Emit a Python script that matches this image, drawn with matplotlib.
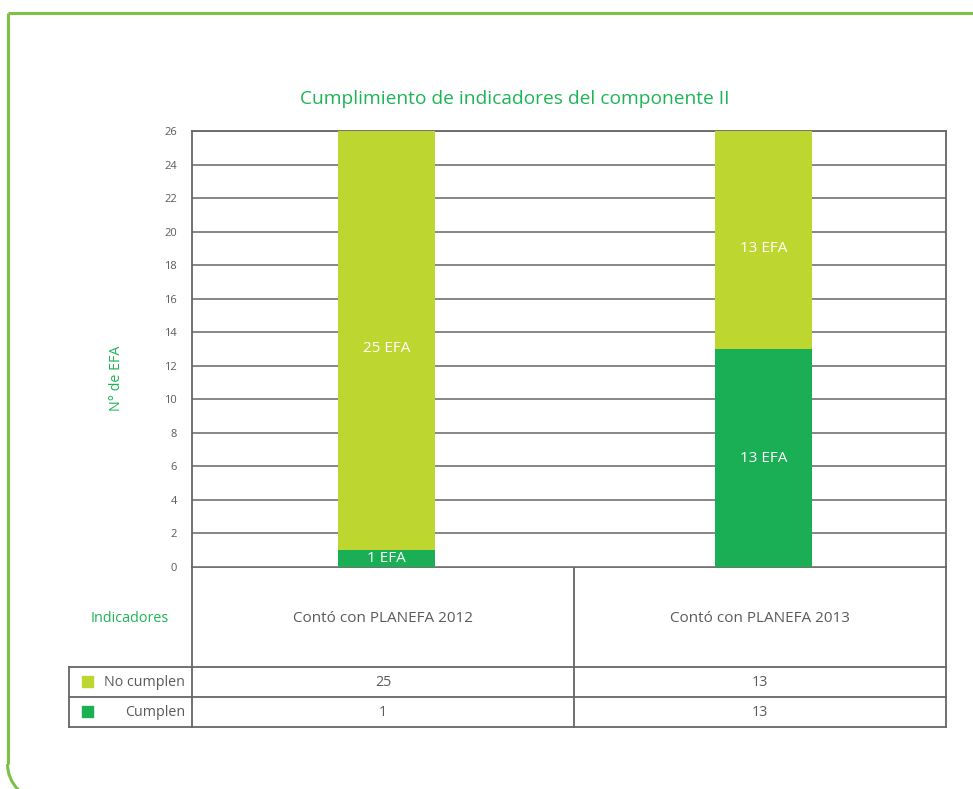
import matplotlib.pyplot as plt
from matplotlib.patches import Arc, Rectangle

# datos
categorias = ['Contó con PLANEFA 2012', 'Contó con PLANEFA 2013']
cumplen = [1, 13]
no_cumplen = [25, 13]
yticks = list(range(0, 27, 2))

verde_claro = '#bdd730'
verde = '#1aae55'
verde_titulo = '#1db455'
verde_marco = '#7dc242'
gris = '#5a5a5a'
linea = '#666666'

plt.rcParams['font.family'] = ['Open Sans', 'DejaVu Sans']

W, H = 973, 789
fig = plt.figure(figsize=(W / 100, H / 100), dpi=100)

# capa de fondo en pixeles (marco y tabla)
bg = fig.add_axes([0, 0, 1, 1])
bg.set_xlim(0, W)
bg.set_ylim(H, 0)
bg.axis('off')

# marco verde con esquina inferior izquierda redondeada
r = 36
bg.plot([W + 5, 7.5], [12.5, 12.5], color=verde_marco, lw=2.2, solid_capstyle='butt')
bg.plot([7.5, 7.5], [12.5, 800 - r], color=verde_marco, lw=2.2, solid_capstyle='butt')
bg.add_patch(Arc((7.5 + r, 800 - r), 2 * r, 2 * r, theta1=90, theta2=180,
                 color=verde_marco, lw=2.2))

# area del grafico
x0, x1, y0, y1 = 192, 946, 131, 567
ax = fig.add_axes([x0 / W, 1 - y1 / H, (x1 - x0) / W, (y1 - y0) / H])
pos = list(range(len(categorias)))
ax.bar(pos, cumplen, width=0.257, color=verde, zorder=3)
ax.bar(pos, no_cumplen, width=0.257, bottom=cumplen, color=verde_claro, zorder=3)
ax.set_xlim(-0.516, 1.484)
ax.set_ylim(0, 26)
ax.set_yticks(yticks)
ax.set_xticks([])
ax.tick_params(axis='y', length=0, pad=11, labelsize=8, labelcolor=gris)
ax.yaxis.grid(True, color=linea, lw=1.1, zorder=0)
for s in ax.spines.values():
    s.set_color(linea)
    s.set_linewidth(1.3)
ax.spines['bottom'].set_visible(False)

for p, c, n in zip(pos, cumplen, no_cumplen):
    ax.text(p, c / 2, f'{c} EFA', ha='center', va='center', color='white', fontsize=11, zorder=4)
    ax.text(p, c + n / 2 - 0.5, f'{n} EFA', ha='center', va='center', color='white', fontsize=11, zorder=4)

bg.text(117, 378, 'N° de EFA', color=verde_titulo, fontsize=10.3, rotation=90,
        ha='center', va='center')
bg.text(515, 99, 'Cumplimiento de indicadores del componente II', color=verde_titulo,
        fontsize=13.8, ha='center', va='center')

# tabla inferior
cols = [192, 574, 946]
lw_t = 1.3
for xx in cols:
    bg.plot([xx, xx], [567, 727], color=linea, lw=lw_t)
bg.plot([cols[0], cols[2]], [567, 567], color=linea, lw=lw_t)
for yy in [667, 697, 727]:
    bg.plot([69, cols[2]], [yy, yy], color=linea, lw=lw_t)
bg.plot([69, 69], [667, 727], color=linea, lw=lw_t)

bg.text(130, 619, 'Indicadores', color=verde_titulo, fontsize=10.4, ha='center', va='center')
for i, cat in enumerate(categorias):
    xc = (cols[i] + cols[i + 1]) / 2
    bg.text(xc, 619, cat, color=gris, fontsize=11, ha='center', va='center')
    bg.text(xc, 682, str(no_cumplen[i]), color=gris, fontsize=10.3, ha='center', va='center')
    bg.text(xc, 712, str(cumplen[i]), color=gris, fontsize=10.3, ha='center', va='center')

filas = [('No cumplen', verde_claro, 682), ('Cumplen', verde, 712)]
for lab, col, yy in filas:
    bg.add_patch(Rectangle((82, yy - 6), 11, 11, color=col))
    bg.text(185, yy, lab, color=gris, fontsize=10.3, ha='right', va='center')

fig.savefig('out.png', dpi=100)
